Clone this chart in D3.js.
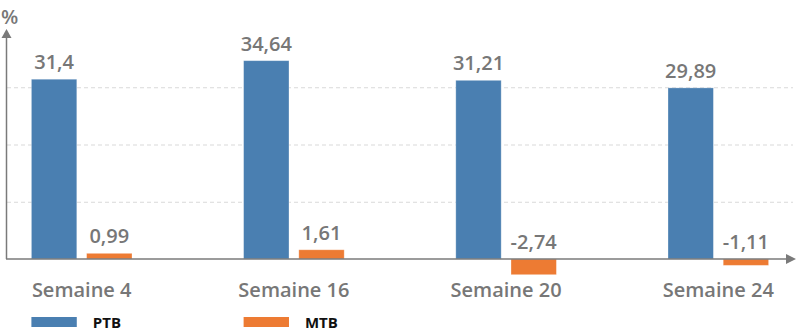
<!DOCTYPE html>
<html><head><meta charset="utf-8">
<script src="https://cdn.jsdelivr.net/npm/d3@7"></script>
<style>body{margin:0;background:#fff}svg{display:block}</style>
</head><body>
<svg id="c" width="800" height="336"></svg>
<script>
const categories = ["Semaine 4", "Semaine 16", "Semaine 20", "Semaine 24"];
const seriesNames = ["PTB", "MTB"];
const ptb = [31.4, 34.64, 31.21, 29.89];
const mtb = [0.99, 1.61, -2.74, -1.11];
const valueLabels = { PTB: ["31,4", "34,64", "31,21", "29,89"], MTB: ["0,99", "1,61", "-2,74", "-1,11"] };
const gridTicks = [10, 20, 30];
const colors = { PTB: "#4a7fb1", MTB: "#ed7b33" };

const svg = d3.select("#c");
const font = "'Open Sans', 'Noto Sans', sans-serif";
const gray = "#777777";

const y = d3.scaleLinear().domain([0, 40]).range([259, 30]);
const x0 = d3.scaleBand().domain(categories).range([7, 793]).paddingInner(0.526).paddingOuter(0.115);
const x1 = d3.scaleBand().domain(seriesNames).range([0, x0.bandwidth()]).paddingInner(0.178);

// gridlines
svg.append("g").selectAll("line").data(gridTicks).join("line")
  .attr("x1", 7).attr("x2", 793)
  .attr("y1", d => y(d) + 0.5).attr("y2", d => y(d) + 0.5)
  .attr("stroke", "#d9d9d9").attr("stroke-dasharray", "4,3").attr("stroke-width", 1);

const data = categories.map((c, i) => ({ cat: c, vals: [
  { s: "PTB", v: ptb[i], lab: valueLabels.PTB[i] },
  { s: "MTB", v: mtb[i], lab: valueLabels.MTB[i] }
]}));

const g = svg.append("g").selectAll("g").data(data).join("g")
  .attr("transform", d => `translate(${x0(d.cat)},0)`);

g.selectAll("rect").data(d => d.vals).join("rect")
  .attr("x", d => x1(d.s)).attr("width", x1.bandwidth())
  .attr("y", d => y(Math.max(0, d.v)))
  .attr("height", d => Math.abs(y(d.v) - y(0)))
  .attr("fill", d => colors[d.s])
  .attr("stroke", "#ffffff").attr("stroke-opacity", 0.35).attr("stroke-width", 0.8);

g.selectAll("text").data(d => d.vals).join("text")
  .attr("x", d => x1(d.s) + x1.bandwidth() / 2)
  .attr("y", d => y(Math.max(0, d.v)) - 10)
  .attr("text-anchor", "middle")
  .attr("font-family", font).attr("font-weight", 600).attr("font-size", 20)
  .attr("fill", gray).text(d => d.lab);

// axes
const axisColor = "#7a7a7a";
svg.append("line").attr("x1", 6.5).attr("x2", 6.5).attr("y1", y(0)).attr("y2", 36)
  .attr("stroke", axisColor).attr("stroke-width", 1.5);
svg.append("path").attr("d", `M6.5,${y(40) - 1} L1.5,38 L11.5,38 Z`).attr("fill", axisColor);
svg.append("line").attr("x1", 6).attr("x2", 788).attr("y1", y(0)).attr("y2", y(0))
  .attr("stroke", axisColor).attr("stroke-width", 1.5);
svg.append("path").attr("d", `M796,${y(0)} L786,${y(0) - 5} L786,${y(0) + 5} Z`).attr("fill", axisColor);

// category labels
svg.append("g").selectAll("text").data(categories).join("text")
  .attr("x", d => x0(d) + x0.bandwidth() / 2).attr("y", 297)
  .attr("text-anchor", "middle")
  .attr("font-family", font).attr("font-weight", 600).attr("font-size", 20)
  .attr("fill", gray).text(d => d);

// % label
svg.append("text").attr("x", 1).attr("y", 24)
  .attr("font-family", font).attr("font-weight", 600).attr("font-size", 20)
  .attr("fill", gray).text("%");

// legend
const leg = svg.append("g").selectAll("g").data(seriesNames).join("g")
  .attr("transform", (d, i) => `translate(${x0(categories[i])},0)`);
leg.append("rect").attr("x", 0).attr("y", 317).attr("width", x1.bandwidth()).attr("height", 10)
  .attr("fill", d => colors[d]);
leg.append("text").attr("x", x1.bandwidth() + 16).attr("y", 327.5)
  .attr("font-family", font).attr("font-weight", 700).attr("font-size", 15)
  .attr("fill", "#111").text(d => d);
</script>
</body></html>
